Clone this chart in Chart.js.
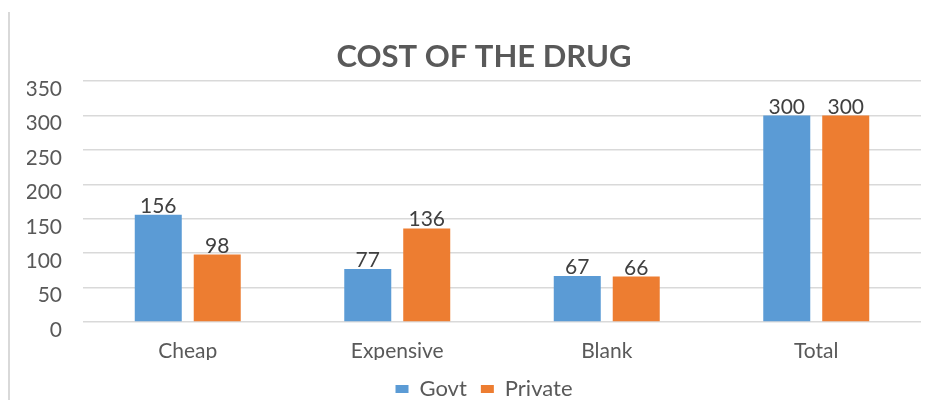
<!DOCTYPE html>
<html>
<head>
<meta charset="utf-8">
<script src="https://cdn.jsdelivr.net/npm/chart.js@4/dist/chart.umd.min.js"></script>
<style>
  html, body { margin: 0; padding: 0; background: #fff; overflow: hidden; }
  #wrap { position: relative; width: 941px; height: 412px; }
  #edge { position: absolute; left: 8px; top: 12px; height: 400px; border-left: 2px solid #d9d9d9; }
</style>
</head>
<body>
<div id="wrap">
  <div id="edge"></div>
  <canvas id="myChart"></canvas>
</div>
<script>
  const categories = ['Cheap', 'Expensive', 'Blank', 'Total'];
  const govt = [156, 77, 67, 300];
  const privat = [98, 136, 66, 300];
  const yTicks = [0, 50, 100, 150, 200, 250, 300, 350];

  const FONT = 'Lato';

  // value labels on top of the bars
  const barValues = {
    id: 'barValues',
    afterDatasetsDraw(chart, args, options) {
      const { ctx } = chart;
      ctx.save();
      ctx.font = options.fontSize + 'px ' + options.fontFamily;
      ctx.fillStyle = options.fontColor;
      ctx.textAlign = 'center';
      ctx.textBaseline = 'alphabetic';
      chart.data.datasets.forEach((ds, i) => {
        chart.getDatasetMeta(i).data.forEach((bar, j) => {
          ctx.fillText(ds.data[j], bar.x, bar.y - 2);
        });
      });
      ctx.restore();
    }
  };

  // the source picture cuts the category labels off at their baseline
  const labelCut = {
    id: 'labelCut',
    afterDraw(chart) {
      const { ctx, chartArea: { left, right } } = chart;
      ctx.save();
      ctx.fillStyle = '#ffffff';
      ctx.fillRect(left - 10, 360, right - left + 20, 12);
      ctx.restore();
    }
  };

  const data = {
    labels: categories,
    datasets: [{
      label: 'Govt',
      data: govt,
      backgroundColor: '#5B9BD5'
    }, {
      label: 'Private',
      data: privat,
      backgroundColor: '#ED7D31'
    }]
  };

  const config = {
    type: 'bar',
    data: data,
    options: {
      responsive: true,
      maintainAspectRatio: false,
      animation: false,
      categoryPercentage: 0.563,
      barPercentage: 0.797,
      layout: {
        padding: { left: 27, right: 0, top: 0, bottom: 2 }
      },
      scales: {
        x: {
          grid: { display: false },
          border: { display: false },
          ticks: {
            color: '#595959',
            font: { family: FONT, size: 21 },
            padding: 9
          },
          afterFit(scale) { scale.height = 42; }
        },
        y: {
          min: 0,
          max: 350,
          afterBuildTicks(scale) { scale.ticks = yTicks.map(v => ({ value: v })); },
          grid: { color: '#d9d9d9', lineWidth: 1.5, drawTicks: false },
          border: { display: false },
          ticks: {
            color: '#595959',
            font: { family: FONT, size: 21 },
            padding: 21,
            labelOffset: 8
          },
          afterFit(scale) { scale.width = 56; }
        },
        // empty strip on the right so title and legend sit where the original has them
        yRight: {
          position: 'right',
          display: true,
          grid: { display: false },
          border: { display: false },
          ticks: { display: false },
          afterFit(scale) { scale.width = 20; }
        }
      },
      plugins: {
        title: {
          display: true,
          text: 'COST OF THE DRUG',
          color: '#595959',
          font: { family: FONT, size: 31, weight: 'bold' },
          padding: { top: 38, bottom: 6 }
        },
        legend: {
          position: 'bottom',
          labels: {
            color: '#595959',
            font: { family: FONT, size: 22 },
            boxWidth: 13,
            boxHeight: 8,
            padding: 14
          }
        },
        tooltip: { enabled: false },
        barValues: {
          fontColor: '#404040',
          fontSize: 21,
          fontFamily: FONT
        }
      }
    },
    plugins: [barValues, labelCut]
  };

  const myChart = new Chart(document.getElementById('myChart'), config);
</script>
</body>
</html>
